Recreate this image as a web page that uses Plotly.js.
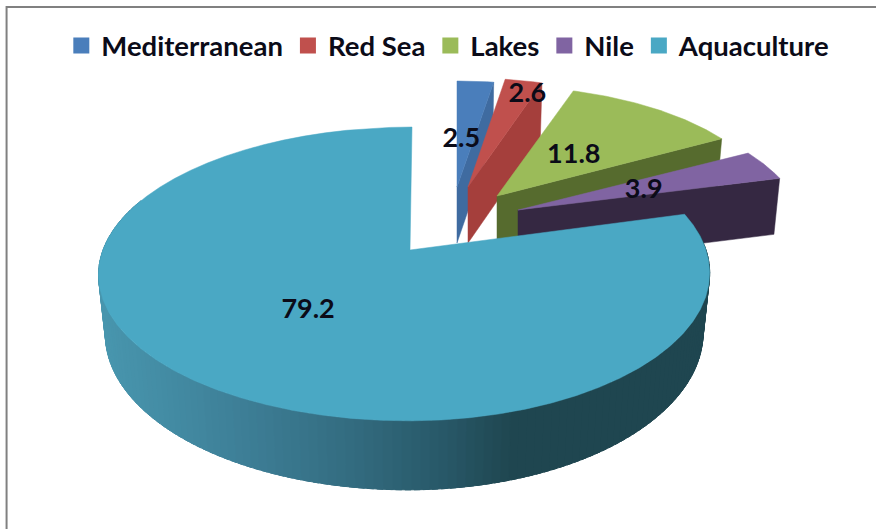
<!DOCTYPE html>
<html><head><meta charset="utf-8">
<script src="https://cdn.plot.ly/plotly-3.0.1.min.js"></script>
<style>html,body{margin:0;padding:0;background:#fff}</style></head>
<body><div id="chart" style="width:876px;height:529px"></div>
<script>
// data
const categories = ["Mediterranean", "Red Sea", "Lakes", "Nile", "Aquaculture"];
const values = [2.5, 2.6, 11.8, 3.9, 79.2];
// styling
const topColors = ["#4a7ebb", "#c0504d", "#9bbb59", "#8064a2", "#4aa8c4"];
const faceColors = ["#3f6ba0", "#a53f3c", "#566b2e", "#352842", "#1f4650"];
// projection of the tilted 3D pie
const PX = 876, PY = 529, K = 0.163, RY = 143, RXR = 296, RXL = 307;
const apexX = [457, 468, 497, 518, 410];
const apexY = [187, 187, 196, 210, 250];
const scaleX = [0.90, 0.90, 0.93, 0.95, 1];
const scaleY = [0.843, 0.87, 0.88, 0.88, 1];
const labelFrac = [0.25, 0.8, 0.5, 0.6, 0.504];
const labelR = [0.43, 0.88, 0.46, 0.49, 0.495];
const rampX = [100, 230, 330, 440, 510, 720];
const rampC = [[72,150,174],[62,128,152],[53,111,132],[40,88,104],[31,70,80],[31,70,80]];

const total = values.reduce((a,b)=>a+b,0);
function project(i, r, deg){
  const t = deg*Math.PI/180, u = r*Math.sin(t), v = r*Math.cos(t);
  const w = 1 + K*v*scaleY[i];
  const rx = (u<0?RXL:RXR)*scaleX[i];
  return [apexX[i] + rx*u/w + (i===4?2*v:0), apexY[i] - RY*scaleY[i]*v/w];
}
function sink(p, i){ // same point on the lower rim of the disc
  const d = 58 + (p[1]-250)*0.0643;
  return [apexX[i] + (p[0]-apexX[i])*0.978, p[1] + (i===4?d:Math.max(d,56))];
}
function poly(pts, color, extra){
  return Object.assign({type:"scatter", mode:"lines", x:pts.map(p=>p[0]), y:pts.map(p=>p[1]),
    fill:"toself", fillcolor:color, line:{color:color,width:1}, hoverinfo:"skip", showlegend:false}, extra||{});
}
function ramp(x){
  for(let j=1;j<rampX.length;j++){ if(x<=rampX[j]){
    const f=Math.max(0,(x-rampX[j-1])/(rampX[j]-rampX[j-1]));
    return "rgb("+rampC[j].map((c,k)=>Math.round(rampC[j-1][k]+(c-rampC[j-1][k])*f)).join(",")+")"; } }
  return "rgb("+rampC[rampC.length-1].join(",")+")";
}
const traces = [];
const labX = [], labY = [];
let start = 0;
values.forEach((val,i)=>{
  const sweep = val/total*360, end = start+sweep;
  const arc = [];
  for(let s=0;s<=60;s++) arc.push(project(i,1,start+sweep*s/60));
  const apex = [apexX[i],apexY[i]];
  if(i<4){
    const c = arc[arc.length-1];
    traces.push(poly([apex,c,sink(c,i),sink(apex,i),apex],faceColors[i],{line:{color:faceColors[i],width:0.5}}));
  } else {
    for(let a=Math.max(start,82);a<290;a+=1.5){
      const p0=project(i,1,a), p1=project(i,1,a+2.5);
      traces.push(poly([p0,p1,sink(p1,i),sink(p0,i),p0],ramp((p0[0]+p1[0])/2)));
    }
  }
  traces.push(poly([apex].concat(arc,[apex]),topColors[i],{line:{color:topColors[i],width:0.5}}));
  const lp = project(i,labelR[i],start+sweep*labelFrac[i]);
  labX.push(lp[0]); labY.push(lp[1]+2.5);
  start = end;
});
traces.push({type:"scatter",mode:"text",x:labX,y:labY,text:values.map(v=>v.toFixed(1)),
  textposition:"middle center",textfont:{family:"Lato, sans-serif",size:27,color:"#0b0b18",weight:700},
  hoverinfo:"skip",showlegend:false});
categories.forEach((c,i)=>traces.push({type:"scatter",mode:"markers",x:[null],y:[null],name:c,
  marker:{symbol:"square",size:16,color:topColors[i]},hoverinfo:"skip"}));

const layout = {
  width:PX,height:PY,margin:{l:0,r:0,t:0,b:0},paper_bgcolor:"#fff",plot_bgcolor:"#fff",
  xaxis:{range:[0,PX],visible:false,fixedrange:true},
  yaxis:{range:[PY,0],visible:false,fixedrange:true},
  showlegend:true,
  legend:{orientation:"h",x:0.07,y:0.96,xanchor:"left",yanchor:"top",bgcolor:"rgba(0,0,0,0)",
    font:{family:"Lato, sans-serif",size:27.5,color:"#0b0b18",weight:700},itemwidth:30,traceorder:"normal"},
  shapes:[{type:"path",xref:"paper",yref:"paper",
    path:"M 0.0075 0 L 0.0075 0.987 L 1 0.987",line:{color:"#808080",width:2}}]
};
Plotly.newPlot("chart",traces,layout,{displayModeBar:false,staticPlot:true});
</script></body></html>
